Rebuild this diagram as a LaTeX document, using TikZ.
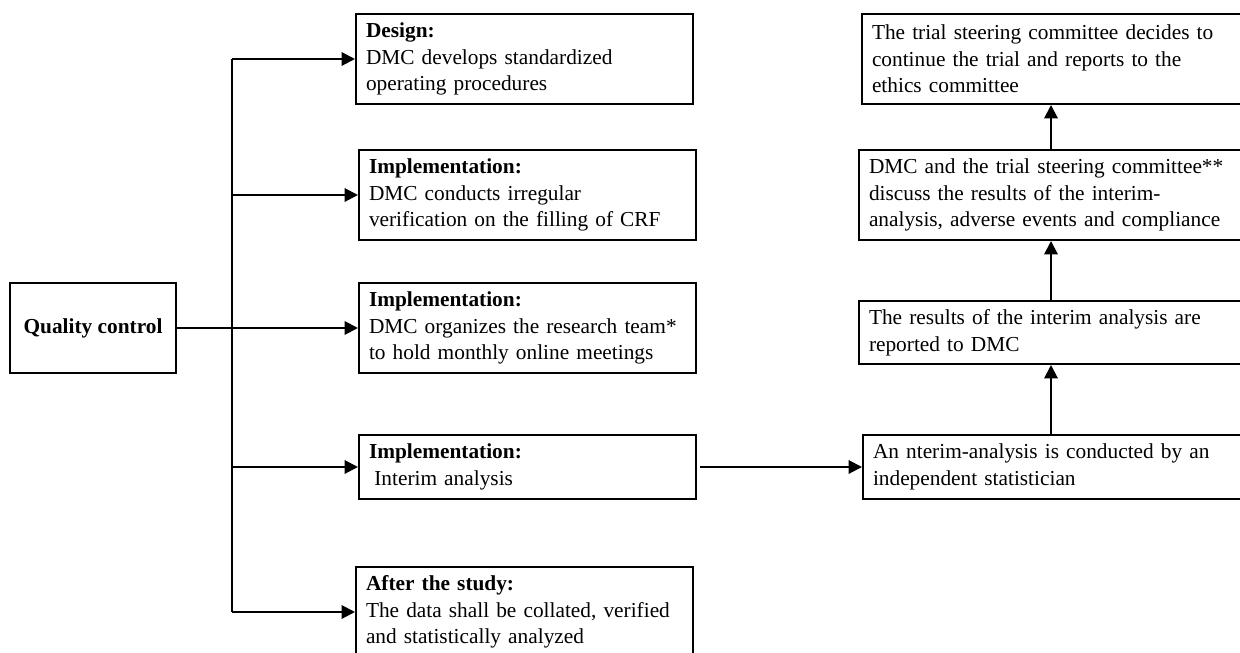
\documentclass[tikz,border=0pt]{standalone}
\usepackage{fontspec}
\setmainfont{Liberation Serif}
\usetikzlibrary{positioning,arrows.meta}

\begin{document}
\begin{tikzpicture}[x=0.75pt,y=-0.75pt,
 boxstyle/.style={draw,line width=1.5pt,anchor=north west,align=left,inner xsep=7.5pt,inner ysep=0pt,font=\fontsize{16}{20}\selectfont},
 leftbox/.style={boxstyle,text width=237.75pt},
 rightbox/.style={boxstyle,text width=290pt},
 arrowline/.style={line width=1.5pt,-{Triangle[length=10pt,width=10pt]}}]
\useasboundingbox (0,0) rectangle (1240,653);
\clip (0,0) rectangle (1240,653);

\node[boxstyle,align=center,minimum width=124.5pt,minimum height=67.5pt](qc) at (9,282){\textbf{Quality control}};

% left column
\node[leftbox,minimum height=67.5pt](l1) at (355,13){\textbf{Design:}\\DMC develops standardized\\operating procedures};
\node[leftbox,minimum height=67.5pt](l2) at (358,149){\textbf{Implementation:}\\DMC conducts irregular\\verification on the filling of CRF};
\node[leftbox,minimum height=67.5pt](l3) at (358,282){\textbf{Implementation:}\\DMC organizes the research team*\\to hold monthly online meetings};
\node[leftbox,minimum height=48pt](l4) at (358,434){\textbf{Implementation:}\\\hspace*{0.25em}Interim analysis};
\node[leftbox,minimum height=67.5pt](l5) at (355,566){\textbf{After the study:}\\The data shall be collated, verified\\and statistically analyzed};

% right column
\node[rightbox,minimum height=67.5pt](r1) at (861,13){The trial steering committee decides to\\continue the trial and reports to the\\ethics committee};
\node[rightbox,minimum height=67.5pt](r2) at (858,149){DMC and the trial steering committee**\\discuss the results of the interim-\\analysis, adverse events and compliance};
\node[rightbox,minimum height=47.25pt](r3) at (858,300){The results of the interim analysis are\\reported to DMC};
\node[rightbox,minimum height=48pt](r4) at (862,434){An nterim-analysis is conducted by an\\independent statistician};

\coordinate (trunk) at (232,330);
\coordinate (col) at (1051,0);

\draw[line width=1.5pt] (qc.east) -- (qc.east -| trunk);
\draw[line width=1.5pt] (trunk |- l1.west) -- (trunk |- l5.west);
\foreach \i in {1,...,5}
 \draw[arrowline] (trunk |- l\i.west) -- (l\i.west);

\draw[arrowline,shorten <=2pt] (l4.east) -- (r4.west);
\foreach \a/\b in {r4/r3,r3/r2,r2/r1}
 \draw[arrowline] (\a.north -| col) -- (\b.south -| col);

\end{tikzpicture}
\end{document}
